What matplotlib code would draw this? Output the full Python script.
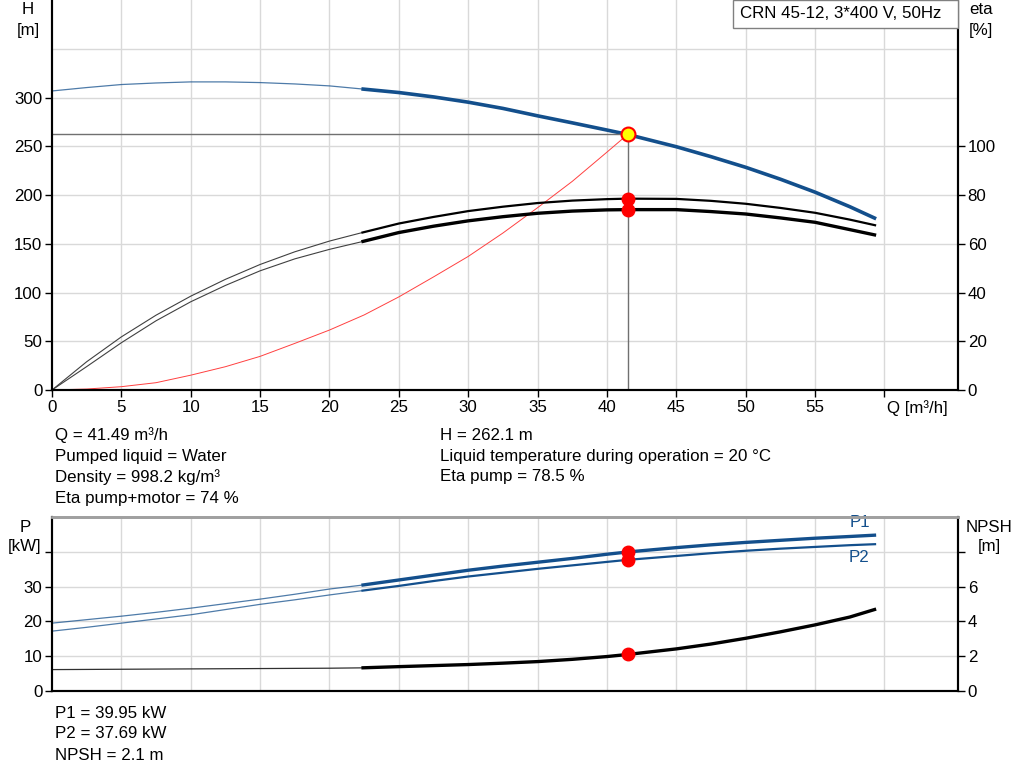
import numpy as np
import matplotlib
matplotlib.use('Agg')
import matplotlib.pyplot as plt
from matplotlib.patches import Rectangle

plt.rcParams['font.family'] = ['Liberation Sans', 'DejaVu Sans']
plt.rcParams['font.size'] = 12.2

# 读取的曲线数据 (Q in m3/h), 细线段 + 粗线段
q_thin = [0, 2.5, 5, 7.5, 10, 12.5, 15, 17.5, 20, 22.3]
q_thick = [22.3, 25, 27.5, 30, 32.5, 35, 37.5, 40, 41.49, 45, 47.5, 50, 52.5, 55, 57.5, 59.4]

h_thin = [306.7, 310.2, 313.3, 314.9, 316.0, 316.0, 315.3, 313.9, 311.9, 308.8]
h_thick = [308.8, 305.1, 300.6, 295.2, 288.8, 281.2, 274.0, 266.6, 262.1, 249.5, 239.3, 228.4,
           216.2, 202.9, 188.0, 175.6]

eta_p_thin = [0, 11.6, 21.8, 30.7, 38.5, 45.4, 51.5, 56.7, 61.1, 64.5]
eta_p_thick = [64.5, 68.3, 71.0, 73.4, 75.2, 76.7, 77.7, 78.3, 78.5, 78.4, 77.6, 76.4, 74.7,
               72.7, 69.9, 67.5]
eta_pm_thin = [0, 9.6, 19.4, 28.4, 36.2, 42.9, 48.9, 53.8, 57.7, 60.8]
eta_pm_thick = [60.8, 64.6, 67.2, 69.4, 71.1, 72.5, 73.4, 73.9, 74.0, 74.0, 73.2, 72.2, 70.6,
                68.8, 65.8, 63.5]

q_sys = [0, 2.5, 5, 7.5, 10, 12.5, 15, 17.5, 20, 22.5, 25, 27.5, 30, 32.5, 35, 37.5, 40, 41.49]
h_sys = [0, 1, 3.4, 7.5, 15.2, 23.9, 34.5, 47.8, 61.5, 77, 95.5, 116, 137, 161, 187, 214, 244, 262.1]

p1_thin = [19.5, 20.5, 21.5, 22.6, 23.8, 25.1, 26.4, 27.8, 29.3, 30.4]
p1_thick = [30.4, 31.9, 33.3, 34.7, 35.9, 37.0, 38.1, 39.3, 39.95, 41.2, 42.0, 42.7, 43.3, 43.9,
            44.4, 44.8]
p2_thin = [17.2, 18.3, 19.5, 20.7, 21.9, 23.4, 24.9, 26.2, 27.6, 28.8]
p2_thick = [28.8, 30.2, 31.6, 32.9, 34.0, 35.1, 36.1, 37.1, 37.69, 38.8, 39.6, 40.3, 40.9, 41.4,
            41.9, 42.2]
npsh_thin = [1.23, 1.24, 1.25, 1.26, 1.27, 1.28, 1.29, 1.30, 1.31, 1.33]
npsh_thick = [1.33, 1.40, 1.46, 1.52, 1.60, 1.69, 1.82, 1.98, 2.1, 2.42, 2.7, 3.03, 3.4, 3.8,
              4.25, 4.71]

q_op = 41.49
h_op = 262.1
eta_p_op = 78.5
eta_pm_op = 74
p1_op = 39.95
p2_op = 37.69
npsh_op = 2.1

info_left = ['Q = 41.49 m³/h', 'Pumped liquid = Water', 'Density = 998.2 kg/m³', 'Eta pump+motor = 74 %']
info_right = ['H = 262.1 m', 'Liquid temperature during operation = 20 °C', 'Eta pump = 78.5 %']
info_bottom = ['P1 = 39.95 kW', 'P2 = 37.69 kW', 'NPSH = 2.1 m']

blue = '#134f8c'
grid_c = '#d9d9d9'
W, H = 1024, 781

fig = plt.figure(figsize=(W / 100, H / 100), dpi=100)

def fx(px):
    return px / W

def fy(py):
    return 1 - py / H

def style_axes(ax):
    for s in ['left', 'bottom', 'right']:
        ax.spines[s].set_color('black')
        ax.spines[s].set_linewidth(1.5)
    ax.spines['top'].set_color('#a0a0a0')
    ax.spines['top'].set_linewidth(2)
    ax.tick_params(length=5, width=1, pad=2)

# ---- 上图: H / eta ----
ax = fig.add_axes([fx(52), fy(390), fx(958 - 52), 390 / H])
ax.set_xlim(0, 65.3)
ax.set_ylim(0, 400)
style_axes(ax)
ax.spines['top'].set_visible(False)
ax.set_xticks(np.arange(0, 61, 5))
ax.set_xticklabels([str(v) for v in range(0, 56, 5)] + [''])
ax.set_yticks(np.arange(0, 301, 50))
for v in np.arange(5, 61, 5):
    ax.axvline(v, color=grid_c, lw=1, zorder=0)
for v in np.arange(50, 351, 50):
    ax.axhline(v, color=grid_c, lw=1, zorder=0)
ax.text(60.2, -18.4, 'Q [m³/h]', ha='left', va='center')

ax.plot(q_thin, h_thin, color=blue, lw=0.9, alpha=0.75)
ax.plot(q_thick, h_thick, color=blue, lw=2.6, solid_capstyle='butt')
ax.plot(q_sys, h_sys, color='#ff4040', lw=0.7)
ax.plot([0, q_op], [h_op, h_op], color='#707070', lw=1)
ax.plot([q_op, q_op], [0, h_op], color='#707070', lw=1)

ax2 = ax.twinx()
ax2.set_ylim(0, 160)
ax2.set_yticks(np.arange(0, 101, 20))
style_axes(ax2)
ax2.spines['top'].set_visible(False)
ax2.plot(q_thin, eta_p_thin, color='#404040', lw=0.8)
ax2.plot(q_thin, eta_pm_thin, color='#404040', lw=0.8)
ax2.plot(q_thick, eta_p_thick, color='black', lw=1.6, solid_capstyle='butt')
ax2.plot(q_thick, eta_pm_thick, color='black', lw=2.4, solid_capstyle='butt')
ax2.plot([q_op, q_op], [eta_p_op, eta_pm_op], 'o', color='red', ms=9, zorder=5)
ax2.plot([q_op], [h_op * 0.4], 'o', mfc='#ffff00', mec='red', mew=1.5, ms=10, zorder=6)

# 型号标签框
fig.patches.append(Rectangle((fx(733), fy(28)), fx(958 - 733), 28 / H, transform=fig.transFigure,
                             fc='white', ec='#808080', lw=1, zorder=10))
fig.text(fx(740), fy(14), 'CRN 45-12, 3*400 V, 50Hz', ha='left', va='center', zorder=11)

fig.text(fx(28), fy(10), 'H', ha='center', va='center')
fig.text(fx(28), fy(30), '[m]', ha='center', va='center')
fig.text(fx(981), fy(10), 'eta', ha='center', va='center')
fig.text(fx(981), fy(30), '[%]', ha='center', va='center')

for i, t in enumerate(info_left):
    fig.text(fx(55), fy(435 + i * 21), t, ha='left', va='center')
for i, t in enumerate(info_right):
    fig.text(fx(440), fy(435 + i * 21), t, ha='left', va='center')

# ---- 下图: P / NPSH ----
bx = fig.add_axes([fx(52), fy(691), fx(958 - 52), (691 - 517) / H])
bx.set_xlim(0, 65.3)
bx.set_ylim(0, 50)
style_axes(bx)
bx.set_xticks([])
bx.set_yticks(np.arange(0, 41, 10))
bx.set_yticklabels(['0', '10', '20', '30', ''])
for v in np.arange(5, 61, 5):
    bx.axvline(v, color=grid_c, lw=1, zorder=0)
for v in np.arange(10, 41, 10):
    bx.axhline(v, color=grid_c, lw=1, zorder=0)

bx.plot(q_thin, p1_thin, color=blue, lw=0.9, alpha=0.75)
bx.plot(q_thin, p2_thin, color=blue, lw=0.9, alpha=0.75)
bx.plot(q_thick, p1_thick, color=blue, lw=2.4, solid_capstyle='butt')
bx.plot(q_thick, p2_thick, color=blue, lw=1.6, solid_capstyle='butt')
bx.plot([q_op, q_op], [p1_op, p2_op], 'o', color='red', ms=9, zorder=5)
bx.text(58.2, 48.4, 'P1', color=blue, ha='center', va='center')
bx.text(58.2, 38.3, 'P2', color=blue, ha='center', va='center')

bx2 = bx.twinx()
bx2.set_ylim(0, 10)
bx2.set_yticks(np.arange(0, 9, 2))
bx2.set_yticklabels(['0', '2', '4', '6', ''])
style_axes(bx2)
bx2.plot(q_thin, npsh_thin, color='#303030', lw=0.9)
bx2.plot(q_thick, npsh_thick, color='black', lw=2.4, solid_capstyle='butt')
bx2.plot([q_op], [npsh_op], 'o', color='red', ms=9, zorder=5)

fig.text(fx(25), fy(527), 'P', ha='center', va='center')
fig.text(fx(25), fy(547), '[kW]', ha='center', va='center')
fig.text(fx(989), fy(527), 'NPSH', ha='center', va='center')
fig.text(fx(989), fy(547), '[m]', ha='center', va='center')

for i, t in enumerate(info_bottom):
    fig.text(fx(55), fy(713 + i * 21), t, ha='left', va='center')

fig.savefig('out.png', dpi=100)
